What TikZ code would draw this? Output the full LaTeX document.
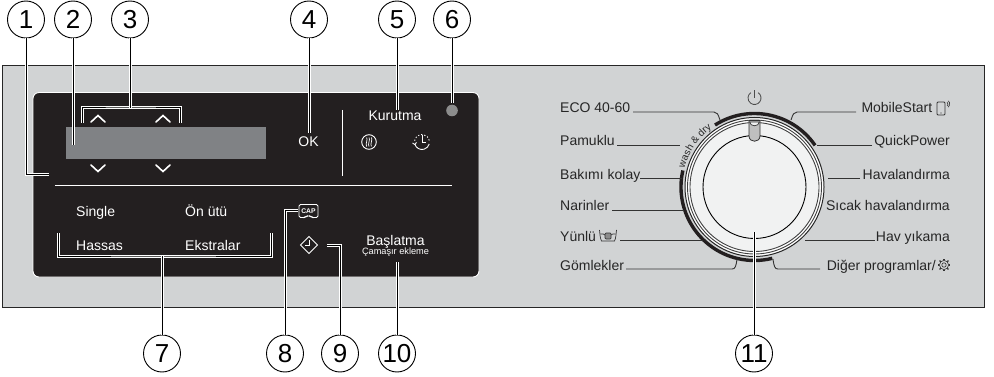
\documentclass[tikz,border=0pt]{standalone}
\usepackage{fontspec}
\setmainfont{Liberation Sans}
\usetikzlibrary{decorations.text}
\definecolor{plate}{HTML}{D1D3D4}
\definecolor{panel}{HTML}{231F20}
\definecolor{screen}{HTML}{808285}
\definecolor{discfill}{HTML}{F1F2F2}
\tikzset{
  callout/.style={circle,draw=black,line width=0.9pt,fill=white,minimum size=37pt,inner sep=0pt,font=\fontsize{26}{26}\selectfont},
  leader/.style={draw=black,line width=1pt,preaction={draw=white,line width=3pt}},
  panellabel/.style={text=white,anchor=base west,inner sep=0pt,font=\fontsize{14}{14}\selectfont},
  proglabel/.style={text=black!85,inner sep=0pt,font=\fontsize{14}{14}\selectfont},
  progline/.style={draw=black!80,line width=0.9pt},
  whiteline/.style={draw=white,line width=1pt},
  iconline/.style={draw=white,line width=0.7pt},
  chevron/.style={draw=white,line width=1.6pt,line cap=round,line join=miter},
}
\begin{document}
\begin{tikzpicture}[x=1pt,y=-1pt]
\useasboundingbox (0,0) rectangle (994,377);
\fill[white] (0,0) rectangle (994,377);
% plate and dark panel
\draw[fill=plate,draw=black!85,line width=0.9pt] (2.5,65.5) rectangle (984.5,307.5);
\draw[fill=panel,draw=white,line width=0.9pt,rounded corners=6pt] (33,92.5) rectangle (479,277);
\fill[screen] (66,127) rectangle (266,159);
\draw[whiteline] (55,186) -- (452,186);
\draw[whiteline] (342,110) -- (342,176);
% chevrons
\foreach \cx in {98,163}{
  \draw[chevron] (\cx-7,122) -- (\cx,115.5) -- (\cx+7,122);
  \draw[chevron] (\cx-7,165) -- (\cx,171.5) -- (\cx+7,165);
}
% panel texts
\node[text=white,inner sep=0pt,anchor=base,font=\fontsize{14}{14}\selectfont] (ok) at (308.5,147) {OK};
\node[text=white,inner sep=0pt,anchor=base,font=\fontsize{14}{14}\selectfont] (kurutma) at (395,121) {Kurutma};
\node[panellabel] (single) at (76,216) {Single};
\node[panellabel] (onutu) at (185,216) {Ön ütü};
\node[panellabel] (hassas) at (76,250) {Hassas};
\node[panellabel] (ekstralar) at (185,250) {Ekstralar};
\node[text=white,inner sep=0pt,anchor=base,font=\fontsize{14}{14}\selectfont] (baslatma) at (395.5,245) {Başlatma};
\node[text=white,inner sep=0pt,anchor=base,font=\fontsize{9.2}{9.2}\selectfont] (camasir) at (395.5,254) {Çamaşır ekleme};
% dry icon
\draw[iconline,line width=0.9pt] (369,142) circle (7.3);
\foreach \dx in {-2.4,0,2.4}{
  \draw[iconline] (369+\dx,137.5) .. controls (369+\dx+1.6,139.5) and (369+\dx-1.6,144) .. (369+\dx,146.5);
}
% timer icon
\draw[iconline,line width=0.9pt] (422,142) ++(165:7.5) arc[start angle=165,end angle=15,radius=7.5];
\draw[iconline,line width=0.9pt] (412.5,143) -- (414.8,144.5) -- (416.5,142.5);
\draw[iconline,line width=0.9pt,dash pattern=on 1.2pt off 2pt] (422,142) ++(190:7.5) arc[start angle=190,end angle=350,radius=7.5];
\draw[iconline,line width=0.9pt] (422,135.5) -- (422,142) -- (426,142);
% CAP icon
\draw[iconline,rounded corners=1.5pt,line width=0.9pt] (299,204.5) -- (318,204.5) -- (318,217.5) -- (312,217.5) -- (310.5,216) -- (306.5,216) -- (305,217.5) -- (299,217.5) -- cycle;
\node[text=white,inner sep=0pt,anchor=base,font=\bfseries\fontsize{6.8}{6.8}\selectfont] (cap) at (308.5,213.5) {CAP};
% start icon
\draw[iconline,line width=0.9pt] (309,236.5) -- (317.5,245) -- (309,253.5) -- (300.5,245) -- cycle;
\draw[iconline] (309,240) -- (309,245.5) -- (305,245.5);
% indicator
\fill[black!45] (452,110.5) circle (5.8);
% dial
\draw[panel,line width=3.4pt] (754.5,187) ++(193:73.5) arc[start angle=193,end angle=76,radius=73.5];
\draw[panel,line width=3.4pt] (754.5,187) ++(237.5:73.5) arc[start angle=237.5,end angle=325.5,radius=73.5];
\fill[white] (754.5,187) circle (69.5);
\draw[black!85,line width=1pt] (754.5,187) circle (69.5);
\draw[black!75,line width=0.9pt] (754.5,187) circle (67);
\draw[black!75,line width=0.9pt,fill=discfill] (754.5,187) circle (64.5);
\draw[black,line width=0.9pt,fill=discfill] (754.5,187) circle (51.5);
% pointer
\draw[fill=black!25,draw=black!80,line width=0.8pt] (749,120.5) -- (749,136) .. controls (749,143) and (760,143) .. (760,136) -- (760,120.5) -- cycle;
\draw[black!80,line width=0.7pt,fill=discfill] (749.5,122) .. controls (750.5,127) and (758.5,127) .. (759.5,122) -- cycle;
% power icon
\draw[black!70,line width=0.8pt] (754.5,98) ++(-55:6.5) arc[start angle=-55,end angle=235,radius=6.5];
\draw[black!70,line width=0.8pt] (754.5,90.5) -- (754.5,98.5);
% wash & dry
\path[decorate,decoration={text along path,text={|\fontsize{10}{10}\selectfont\color{black!85}|wash {\&} dry},text align=center}] (754.5,187) ++(192:72.5) arc[start angle=192,end angle=237,radius=72.5];
% program labels, left
\node[proglabel,anchor=base west] (eco) at (560,113) {ECO 40-60};
\node[proglabel,anchor=base west] (pamuklu) at (560,146) {Pamuklu};
\node[proglabel,anchor=base west] (bakimi) at (560,179) {Bakımı kolay};
\node[proglabel,anchor=base west] (narinler) at (560,211) {Narinler};
\node[proglabel,anchor=base west] (yunlu) at (560,241) {Yünlü};
\node[proglabel,anchor=base west] (gomlekler) at (560,270) {Gömlekler};
% wool icon
\begin{scope}[shift={(599.5,230)}]
\draw[black!80,line width=0.7pt] (0,0) .. controls (0.5,4) and (0.5,8) .. (2,11) -- (15,11) .. controls (16.5,8) and (16.5,4) .. (17,0);
\draw[black!80,line width=0.7pt] (1,4) .. controls (3,2.5) and (4.5,5) .. (5.5,5);
\draw[black!80,line width=0.7pt] (16,4) .. controls (14,2.5) and (12.5,5) .. (11.5,5);
\draw[black!80,line width=0.7pt,fill=black!45,rounded corners=1pt] (5.5,9) -- (5.5,3) -- (11.5,3) -- (11.5,9) -- cycle;
\end{scope}
% program labels, right
\node[proglabel,anchor=base east] (mobile) at (932.5,113) {MobileStart};
\node[proglabel,anchor=base east] (quick) at (950,146) {QuickPower};
\node[proglabel,anchor=base east] (haval) at (950,179) {Havalandırma};
\node[proglabel,anchor=base east] (sicak) at (950,211) {Sıcak havalandırma};
\node[proglabel,anchor=base east] (havy) at (950,241) {Hav yıkama};
\node[proglabel,anchor=base east] (diger) at (936,270) {Diğer programlar/};
% phone icon
\draw[black!80,line width=0.8pt,rounded corners=1pt] (937,102) rectangle (945,115);
\fill[black!80] (941,113) circle (0.6);
\draw[black!80,line width=0.6pt] (945.5,104) ++(-50:2.5) arc[start angle=-50,end angle=50,radius=2.5];
\draw[black!80,line width=0.6pt] (945.5,104) ++(-50:4.2) arc[start angle=-50,end angle=50,radius=4.2];
% gear icon
\draw[black!80,line width=0.6pt] (944,265) circle (2.2);
\draw[black!80,line width=0.6pt] (944,265) circle (4.6);
\foreach \a in {0,45,...,315}{
  \draw[black!80,line width=1.1pt] (944,265) ++(\a:4.6) -- ++(\a:1.6);
}
% dial end coordinates
\coordinate (ecoA) at (633,112);
\coordinate (ecoB) at (720,120);
\coordinate (pamA) at (617,145);
\coordinate (pamB) at (680,145);
\coordinate (bakA) at (640,178);
\coordinate (bakB) at (682,178);
\coordinate (narA) at (612,210);
\coordinate (narB) at (684,210);
\coordinate (yunA) at (620,240);
\coordinate (yunB) at (703,240);
\coordinate (gomA) at (626,269);
\coordinate (gomB) at (737,259);
\coordinate (mobA) at (856,112);
\coordinate (mobB) at (791,120);
\coordinate (quiA) at (872,145);
\coordinate (quiB) at (817,145);
\coordinate (havA) at (860,178);
\coordinate (havB) at (828,178);
\coordinate (hvyA) at (875,240);
\coordinate (hvyB) at (805,240);
\coordinate (digA) at (820,269);
\coordinate (digB) at (773,259);
\draw[progline] (ecoA) -- (714,112) .. controls (717,112) and (718,114) .. (ecoB);
\draw[progline] (pamA) -- (pamB);
\draw[progline] (bakA) -- (bakB);
\draw[progline] (narA) -- (narB);
\draw[progline] (yunA) -- (yunB);
\draw[progline] (gomA) -- (732,269) .. controls (735,269) and (736,267) .. (gomB);
\draw[progline] (mobA) -- (797,112) .. controls (794,112) and (793,114) .. (mobB);
\draw[progline] (quiA) -- (quiB);
\draw[progline] (havA) -- (havB);
\draw[progline] (hvyA) -- (hvyB);
\draw[progline] (digA) -- (778,269) .. controls (775,269) and (774,267) .. (digB);
% callouts
\node[callout] (c1) at (26,19.5) {1};
\node[callout] (c2) at (73,19.5) {2};
\node[callout] (c3) at (130,19.5) {3};
\node[callout] (c4) at (309,19.5) {4};
\node[callout] (c5) at (397,19.5) {5};
\node[callout] (c6) at (452,19.5) {6};
\node[callout] (c7) at (162,353.5) {7};
\node[callout] (c8) at (285,353.5) {8};
\node[callout] (c9) at (340,353.5) {9};
\node[callout] (c10) at (397,353.5) {10};
\node[callout] (c11) at (754,353.5) {11};
\coordinate (e1) at (49,174.5);
\coordinate (e2) at (73,145);
\coordinate (e3) at (130,108);
\coordinate (e3a) at (82,123);
\coordinate (e3b) at (180,123);
\coordinate (e4) at (309,133);
\coordinate (e5) at (397,110);
\coordinate (e6) at (452,103);
\coordinate (e7) at (162,256);
\coordinate (e7a) at (58,233);
\coordinate (e7b) at (271,233);
\coordinate (e8) at (298,211);
\coordinate (e9) at (327,245);
\coordinate (e10) at (397,262);
\coordinate (e11) at (754,232);
\draw[leader] (c1.south) |- (e1);
\draw[leader] (c2.south) -- (e2);
\draw[leader] (e3a) |- (e3) -| (e3b);
\draw[leader] (c3.south) -- (e3);
\draw[leader] (c4.south) -- (e4);
\draw[leader] (c5.south) -- (e5);
\draw[leader] (c6.south) -- (e6);
\draw[leader] (e7a) |- (e7) -| (e7b);
\draw[leader] (c7.north) -- (e7);
\draw[leader] (c8.north) |- (e8);
\draw[leader] (c9.north) |- (e9);
\draw[leader] (c10.north) -- (e10);
\draw[leader] (c11.north) -- (e11);
\end{tikzpicture}
\end{document}
